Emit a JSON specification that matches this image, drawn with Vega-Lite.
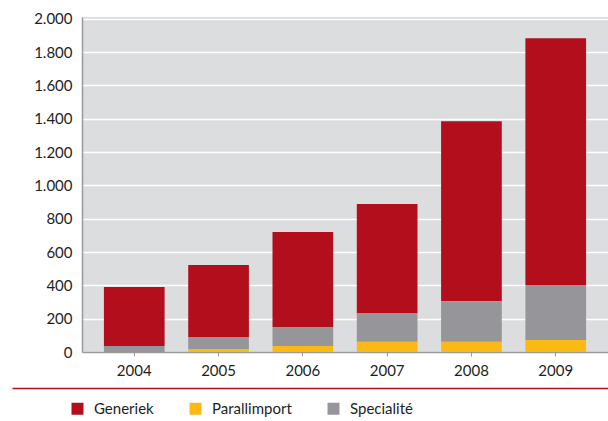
{
  "$schema": "https://vega.github.io/schema/vega-lite/v6.json",
  "autosize": {"type": "none"},
  "width": 526,
  "height": 335,
  "padding": {"left": 82, "top": 17, "right": 0, "bottom": 69},
  "background": "#ffffff",
  "config": {
    "font": "Lato",
    "view": {"fill": "#dcdddf", "stroke": null},
    "axis": {"labelFont": "Lato", "labelColor": "#1e1e1e"}
  },
  "data": {
    "values": [
      {"year": "2004", "type": "Generiek", "value": 354},
      {"year": "2004", "type": "Parallimport", "value": 0},
      {"year": "2004", "type": "Specialité", "value": 36},
      {"year": "2005", "type": "Generiek", "value": 432},
      {"year": "2005", "type": "Parallimport", "value": 18},
      {"year": "2005", "type": "Specialité", "value": 72},
      {"year": "2006", "type": "Generiek", "value": 570},
      {"year": "2006", "type": "Parallimport", "value": 36},
      {"year": "2006", "type": "Specialité", "value": 114},
      {"year": "2007", "type": "Generiek", "value": 654},
      {"year": "2007", "type": "Parallimport", "value": 62},
      {"year": "2007", "type": "Specialité", "value": 172},
      {"year": "2008", "type": "Generiek", "value": 1081},
      {"year": "2008", "type": "Parallimport", "value": 62},
      {"year": "2008", "type": "Specialité", "value": 242},
      {"year": "2009", "type": "Generiek", "value": 1481},
      {"year": "2009", "type": "Parallimport", "value": 72},
      {"year": "2009", "type": "Specialité", "value": 330}
    ]
  },
  "layer": [
    {
      "transform": [
        {"calculate": "datum.type === 'Parallimport' ? 0 : datum.type === 'Specialité' ? 1 : 2", "as": "stackOrder"}
      ],
      "mark": {"type": "bar"},
      "encoding": {
        "x": {
          "field": "year",
          "type": "ordinal",
          "scale": {"paddingInner": 0.28, "paddingOuter": 0.26},
          "axis": {
            "title": null,
            "labelAngle": 0,
            "labelFontSize": 15,
            "labelPadding": 7,
            "tickSize": 4,
            "tickColor": "#9a9a9a",
            "domainColor": "#9a9a9a",
            "domainWidth": 1.5,
            "grid": false
          }
        },
        "y": {
          "field": "value",
          "type": "quantitative",
          "stack": "zero",
          "scale": {"domain": [0, 2010], "nice": false},
          "axis": {
            "title": null,
            "values": [0, 200, 400, 600, 800, 1000, 1200, 1400, 1600, 1800, 2000],
            "labelExpr": "replace(format(datum.value, ',d'), ',', '.')",
            "labelFontSize": 15,
            "labelPadding": 10,
            "tickSize": 0,
            "domainColor": "#9a9a9a",
            "domainWidth": 1.5,
            "gridColor": "#ffffff",
            "gridWidth": 1.5
          }
        },
        "color": {
          "field": "type",
          "type": "nominal",
          "scale": {
            "domain": ["Generiek", "Parallimport", "Specialité"],
            "range": ["#b30e1c", "#fcb813", "#96969a"]
          },
          "legend": {
            "title": null,
            "orient": "none",
            "direction": "horizontal",
            "legendX": -12,
            "legendY": 384,
            "padding": 0,
            "symbolType": "square",
            "symbolSize": 144,
            "symbolStrokeWidth": 0,
            "labelFont": "Lato",
            "labelFontSize": 15,
            "labelColor": "#1e1e1e",
            "labelOffset": 9,
            "columnPadding": 34
          }
        },
        "order": {"field": "stackOrder", "type": "quantitative"}
      }
    },
    {
      "mark": {"type": "tick", "opacity": 0},
      "encoding": {
        "x": {
          "field": "year",
          "type": "ordinal",
          "scale": {"range": [-70, 526]},
          "axis": {
            "orient": "bottom",
            "offset": 36,
            "title": null,
            "labels": false,
            "ticks": false,
            "grid": false,
            "domainColor": "#b30e1c",
            "domainWidth": 1.5
          }
        }
      }
    }
  ],
  "resolve": {"scale": {"x": "independent"}, "axis": {"x": "independent"}}
}
